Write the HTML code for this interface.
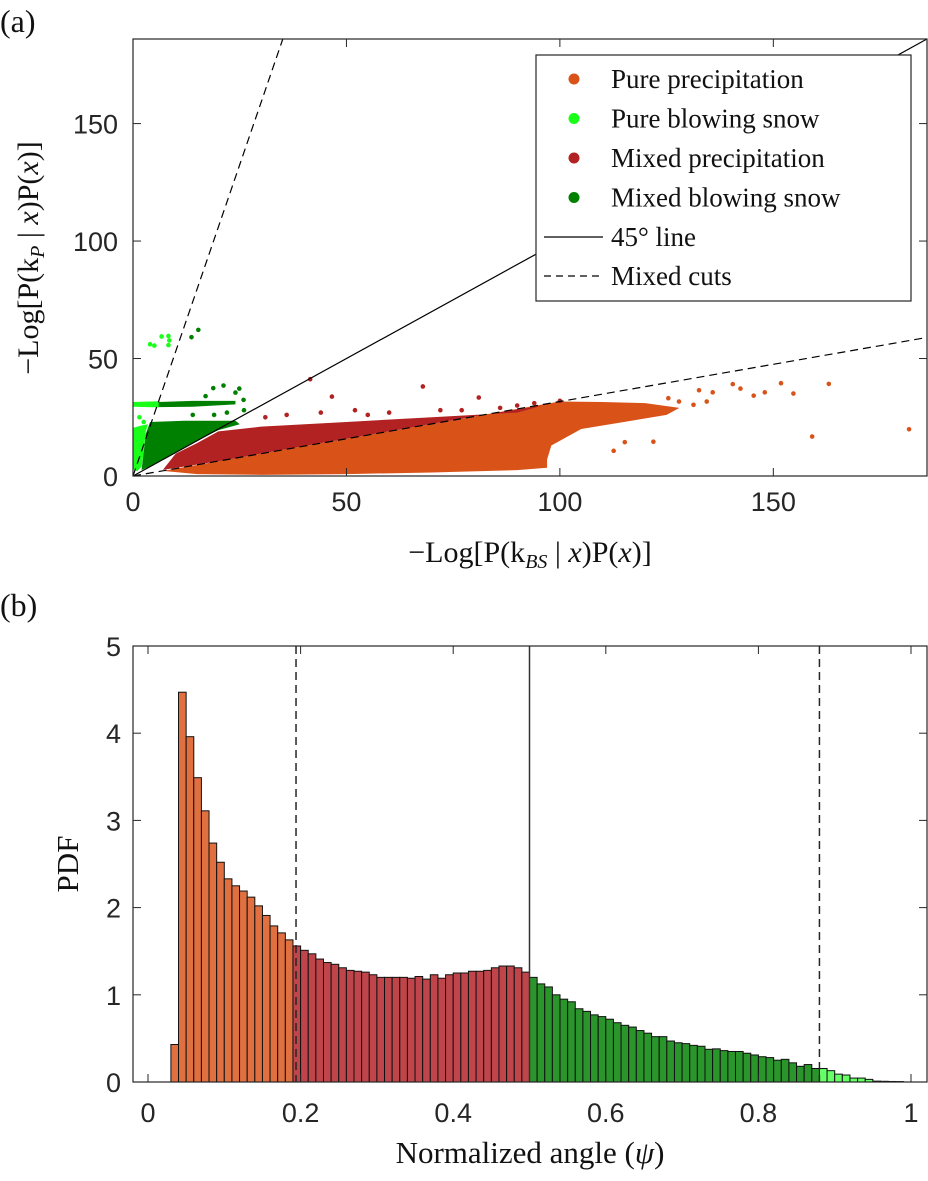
<!DOCTYPE html>
<html><head><meta charset="utf-8"><style>
html,body{margin:0;padding:0;background:#fff;}
svg{display:block;}
.tk{font-family:"Liberation Sans",sans-serif;font-size:27px;fill:#262626;}
.sf{font-family:"Liberation Serif",serif;fill:#111;}
</style></head><body>
<svg id="fig" width="928" height="1181" viewBox="0 0 928 1181" xmlns="http://www.w3.org/2000/svg">
<text x="0" y="32" class="sf" font-size="32">(a)</text>
<text x="0" y="616" class="sf" font-size="32">(b)</text>
<g id="scatter"></g>
<g id="hist"></g>
</svg>
<script>
// ---------- Panel (a) data ----------
const aXTicks = [0, 50, 100, 150];
const aYTicks = [0, 50, 100, 150];
const lightGreenRegion = [[0,3],[1,2],[2,4],[2.5,10],[3,19],[3.5,22],[2,21.5],[0,20.5]];
const lightGreenBand = [[0,29.5],[6,29.2],[8,30.5],[6,31.8],[0,31.5]];
const darkGreenRegion = [[2,2.5],[5,5],[10,10],[15,15],[20,19.5],[25,22],[24,23.5],[12,23.5],[4,23],[3,18],[2.5,10]];
const darkGreenBand = [[6,29.3],[14,29.5],[24,30.5],[24,32],[14,32],[6,31.5]];
const redRegion = [[7,2.6],[10,9.5],[15,14],[20,19],[30,21],[50,23],[70,25],[90,27],[96,30],[80,25.4],[60,19],[40,12.7],[20,6.3]];
const orangeRegion = [[7,2.2],[15,0.8],[30,0.5],[50,0.8],[70,1.5],[90,2.5],[97,3.5],[97,7],[98,13],[105,20],[115,23],[125,26],[128,29],[120,31],[110,31.5],[100,31.7],[80,25.4],[60,19],[40,12.7],[20,6.3]];
const orangeStrip = [[60,7],[97,7],[97,9],[60,9]];
const orangePtsX = [163,181.8,159.1,151.8,154.7,148,145.4,142.3,140.5,135.8,134.4,132.6,131.3,121.9,115.2,112.6,127.9,125.4];
const orangePtsY = [39.2,19.9,16.8,39.5,35.1,35.6,34.2,37.2,39.1,35.6,31.7,36.5,30.3,14.6,14.4,10.7,31.7,33.1];
const redPtsX = [41.5,46.6,67.9,81,52,60,72,86,94,100,36,31,44,55,77,90];
const redPtsY = [41.2,33.8,38.1,33.4,28,27,28,29,31,32,26,25,27,26,28,30];
const dgPtsX = [13.7,15.3,18.8,21.2,24.9,24,25.9,26,22,19,17,14];
const dgPtsY = [59.1,62.2,37.4,38.5,37.2,35.5,32.4,28,27,26,34,26];
const lgPtsX = [4,6.7,8.3,8.5,8.3,5,1.5,2.5];
const lgPtsY = [56.1,59.4,59.6,57.7,55.7,55.5,25,23];
const cutSlopes = [5.3, 0.317];

// ---------- Panel (b) data ----------
const binStart = 0.03, binWidth = 0.01;
const orangeBins = [0.43,4.47,3.96,3.49,3.11,2.74,2.52,2.33,2.25,2.19,2.12,2.02,1.91,1.79,1.71,1.63];
const redBins = [1.56,1.51,1.47,1.41,1.37,1.35,1.31,1.28,1.27,1.26,1.23,1.20,1.20,1.20,1.20,1.19,1.21,1.18,1.23,1.19,1.23,1.25,1.25,1.27,1.27,1.28,1.31,1.33,1.33,1.31,1.26];
const greenBins = [1.20,1.125,1.09,1.0,0.95,0.92,0.84,0.81,0.77,0.75,0.72,0.68,0.65,0.63,0.59,0.56,0.52,0.52,0.47,0.45,0.44,0.42,0.41,0.375,0.38,0.36,0.35,0.35,0.33,0.31,0.29,0.28,0.25,0.26,0.22,0.18,0.20,0.155];
const lightBins = [0.155,0.13,0.09,0.08,0.045,0.045,0.03,0.01,0.008,0.006,0.005];
const bXTicks = [0,0.2,0.4,0.6,0.8,1];
const bXLabels = ["0","0.2","0.4","0.6","0.8","1"];
const bYTicks = [0,1,2,3,4,5];
const cutLines = [0.194, 0.88];
const midLine = 0.5;

const NS = "http://www.w3.org/2000/svg";
function mk(parent, tag, attrs){const e=document.createElementNS(NS,tag);for(const k in attrs)e.setAttribute(k,attrs[k]);parent.appendChild(e);return e;}

// ----- scatter -----
(function(){
const g=document.getElementById('scatter');
const L=133,R=927,T=39,B=476,max=186;
const xs=v=>L+(R-L)*v/max, ys=v=>B-(B-T)*v/max;
function poly(pts,color,name){const p=mk(g,'polygon',{points:pts.map(d=>xs(d[0])+','+ys(d[1])).join(' '),fill:color});

}
function dots(X,Y,color,name){X.forEach((x,i)=>{const c=mk(g,'circle',{cx:xs(x),cy:ys(Y[i]),r:2.3,fill:color});

});}
poly(orangeRegion,'#D95319','pure-precip-cloud');
poly(orangeStrip,'#D95319','pure-precip-strip');
poly(redRegion,'#B22222','mixed-precip-cloud');
poly(lightGreenRegion,'#1AFF1A','pure-snow-cloud');
poly(lightGreenBand,'#1AFF1A','pure-snow-band');
poly(darkGreenRegion,'#008000','mixed-snow-cloud');
poly(darkGreenBand,'#008000','mixed-snow-band');
dots(orangePtsX,orangePtsY,'#D95319','pure-precip-point');
dots(redPtsX,redPtsY,'#B22222','mixed-precip-point');
dots(dgPtsX,dgPtsY,'#008000','mixed-snow-point');
dots(lgPtsX,lgPtsY,'#1AFF1A','pure-snow-point');
const cp=mk(g,'clipPath',{id:'clipA'});mk(cp,'rect',{x:L,y:T,width:R-L,height:B-T});
const l45=mk(g,'line',{x1:xs(0),y1:ys(0),x2:xs(max),y2:ys(max),stroke:'#000','stroke-width':1.2,'clip-path':'url(#clipA)'});


cutSlopes.forEach(s=>{const ex=Math.min(max,max/s);const l=mk(g,'line',{x1:xs(0),y1:ys(0),x2:xs(ex),y2:ys(ex*s),stroke:'#000','stroke-width':1.2,'stroke-dasharray':'8,5','clip-path':'url(#clipA)'});

});
const box=mk(g,'rect',{x:L,y:T,width:R-L,height:B-T,fill:'none',stroke:'#262626','stroke-width':1.2});


aXTicks.forEach(v=>{mk(g,'line',{x1:xs(v),x2:xs(v),y1:B,y2:B-8,stroke:'#262626'});mk(g,'line',{x1:xs(v),x2:xs(v),y1:T,y2:T+8,stroke:'#262626'});
const t=mk(g,'text',{x:xs(v),y:B+35,'text-anchor':'middle',class:'tk'});t.textContent=v;

});
aYTicks.forEach(v=>{mk(g,'line',{x1:L,x2:L+8,y1:ys(v),y2:ys(v),stroke:'#262626'});mk(g,'line',{x1:R,x2:R-8,y1:ys(v),y2:ys(v),stroke:'#262626'});
const t=mk(g,'text',{x:118,y:ys(v)+10,'text-anchor':'end',class:'tk'});t.textContent=v;

});
// legend
const lg=mk(g,'g',{});


mk(lg,'rect',{x:536,y:55,width:375,height:246,fill:'#fff',stroke:'#262626','stroke-width':1.2});
const items=[['Pure  precipitation','#D95319'],['Pure  blowing snow','#1AFF1A'],['Mixed  precipitation','#B22222'],['Mixed  blowing snow','#008000']];
items.forEach((it,i)=>{const y=79+i*39.5;mk(lg,'circle',{cx:574,cy:y,r:5.5,fill:it[1]});
const t=mk(lg,'text',{x:611,y:y+9,class:'sf','font-size':27,'xml:space':'preserve'});t.textContent=it[0];

});
mk(lg,'line',{x1:544,x2:603,y1:237,y2:237,stroke:'#000','stroke-width':1.2});
let t=mk(lg,'text',{x:611,y:246,class:'sf','font-size':27});t.textContent='45° line';


mk(lg,'line',{x1:544,x2:603,y1:276,y2:276,stroke:'#000','stroke-width':1.2,'stroke-dasharray':'7,5'});
t=mk(lg,'text',{x:611,y:285,class:'sf','font-size':27});t.textContent='Mixed cuts';


// axis titles
t=mk(g,'text',{x:530,y:562,'text-anchor':'middle',class:'sf','font-size':30});
t.innerHTML='−Log[P(k<tspan font-size="20" dy="6" font-style="italic">BS</tspan><tspan dy="-6"> | </tspan><tspan font-style="italic">x</tspan>)P(<tspan font-style="italic">x</tspan>)]';


t=mk(g,'text',{x:0,y:0,'text-anchor':'middle',class:'sf','font-size':30,transform:'translate(38,258) rotate(-90)'});
t.innerHTML='−Log[P(k<tspan font-size="20" dy="6" font-style="italic">P</tspan><tspan dy="-6"> | </tspan><tspan font-style="italic">x</tspan>)P(<tspan font-style="italic">x</tspan>)]';


})();

// ----- histogram -----
(function(){
const g=document.getElementById('hist');
const L=133,R=927,T=646,B=1082;
const xs=v=>148+763*v, ys=v=>B-(B-T)*v/5;
function bars(arr,startIdx,color,name){arr.forEach((h,i)=>{const x0=binStart+(startIdx+i)*binWidth;
const r=mk(g,'rect',{x:xs(x0),y:ys(h),width:xs(x0+binWidth)-xs(x0),height:B-ys(h),fill:color,stroke:'#111','stroke-width':1});

});}
let idx=0;
bars(orangeBins,idx,'#E07040','pure-precip-bar');idx+=orangeBins.length;
bars(redBins,idx,'#C0454A','mixed-precip-bar');idx+=redBins.length;
bars(greenBins,idx,'#2A952A','mixed-snow-bar');idx+=greenBins.length;
bars(lightBins,idx,'#66FF66','pure-snow-bar');
cutLines.forEach(v=>{const l=mk(g,'line',{x1:xs(v),x2:xs(v),y1:T,y2:B,stroke:'#262626','stroke-width':1.5,'stroke-dasharray':'8,5'});

});
const m=mk(g,'line',{x1:xs(midLine),x2:xs(midLine),y1:T,y2:B,stroke:'#333','stroke-width':1.5});


const box=mk(g,'rect',{x:L,y:T,width:R-L,height:B-T,fill:'none',stroke:'#262626','stroke-width':1.2});


bXTicks.forEach((v,i)=>{mk(g,'line',{x1:xs(v),x2:xs(v),y1:B,y2:B-8,stroke:'#262626'});mk(g,'line',{x1:xs(v),x2:xs(v),y1:T,y2:T+8,stroke:'#262626'});
const t=mk(g,'text',{x:xs(v),y:B+40,'text-anchor':'middle',class:'tk'});t.textContent=bXLabels[i];

});
bYTicks.forEach(v=>{mk(g,'line',{x1:L,x2:L+8,y1:ys(v),y2:ys(v),stroke:'#262626'});mk(g,'line',{x1:R,x2:R-8,y1:ys(v),y2:ys(v),stroke:'#262626'});
const t=mk(g,'text',{x:121,y:ys(v)+10,'text-anchor':'end',class:'tk'});t.textContent=v;

});
let t=mk(g,'text',{x:530,y:1163,'text-anchor':'middle',class:'sf','font-size':31});
t.innerHTML='Normalized angle (<tspan font-style="italic">ψ</tspan>)';


t=mk(g,'text',{x:0,y:0,'text-anchor':'middle',class:'sf','font-size':31,transform:'translate(78,864) rotate(-90)'});
t.textContent='PDF';


})();
</script>
</body></html>
